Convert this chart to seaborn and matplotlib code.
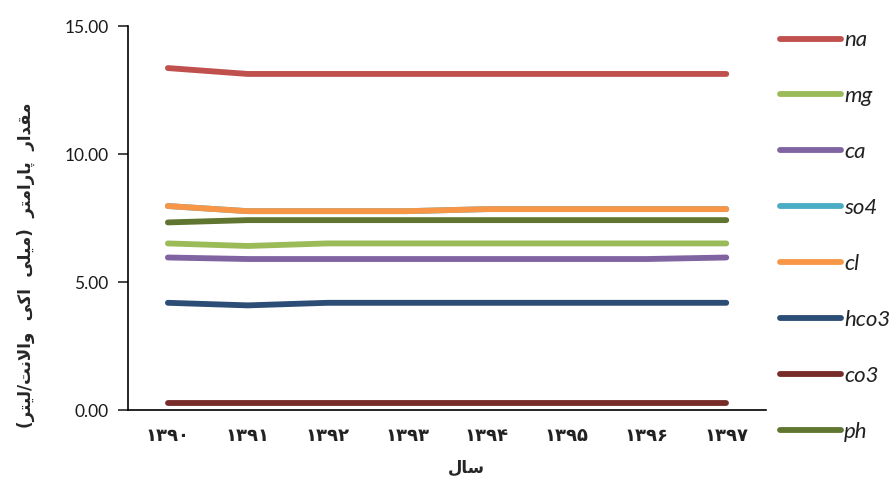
import numpy as np
import pandas as pd
import matplotlib
matplotlib.use("Agg")
import matplotlib.pyplot as plt
import seaborn as sns

# data (years 1390..1397, Persian calendar)
years = ["۱۳۹۰", "۱۳۹۱", "۱۳۹۲", "۱۳۹۳", "۱۳۹۴", "۱۳۹۵", "۱۳۹۶", "۱۳۹۷"]
na = [13.36, 13.13, 13.13, 13.13, 13.13, 13.13, 13.13, 13.13]
mg = [6.51, 6.41, 6.51, 6.51, 6.51, 6.51, 6.51, 6.51]
ca = [5.96, 5.90, 5.90, 5.90, 5.90, 5.90, 5.90, 5.96]
so4 = [7.97, 7.77, 7.77, 7.77, 7.85, 7.85, 7.85, 7.85]
cl = [7.97, 7.77, 7.77, 7.77, 7.85, 7.85, 7.85, 7.85]
hco3 = [4.19, 4.09, 4.19, 4.19, 4.19, 4.19, 4.19, 4.19]
co3 = [0.27, 0.27, 0.27, 0.27, 0.27, 0.27, 0.27, 0.27]
ph = [7.33, 7.42, 7.42, 7.42, 7.42, 7.42, 7.42, 7.42]

params = ["na", "mg", "ca", "so4", "cl", "hco3", "co3", "ph"]
colors = ["#C0504D", "#9BBB59", "#8064A2", "#4BACC6", "#F79646",
          "#2C4D75", "#772C2A", "#5F7530"]

ylabel_fa = "مقدار  پارامتر  (میلی  اکی  والانت/لیتر)"
xlabel_fa = "سال"

# matplotlib has no arabic shaping, so do a small one by hand
FORMS = {
    'ا': ('\uFE8D', '\uFE8E', None, None),
    'د': ('\uFEA9', '\uFEAA', None, None),
    'ر': ('\uFEAD', '\uFEAE', None, None),
    'و': ('\uFEED', '\uFEEE', None, None),
    '\uFEFB': ('\uFEFB', '\uFEFC', None, None),
    'م': ('\uFEE1', '\uFEE2', '\uFEE3', '\uFEE4'),
    'ق': ('\uFED5', '\uFED6', '\uFED7', '\uFED8'),
    'پ': ('\uFB56', '\uFB57', '\uFB58', '\uFB59'),
    'ت': ('\uFE95', '\uFE96', '\uFE97', '\uFE98'),
    'ی': ('\uFBFC', '\uFBFD', '\uFBFE', '\uFBFF'),
    'ل': ('\uFEDD', '\uFEDE', '\uFEDF', '\uFEE0'),
    'ک': ('\uFB8E', '\uFB8F', '\uFB90', '\uFB91'),
    'ن': ('\uFEE5', '\uFEE6', '\uFEE7', '\uFEE8'),
    'س': ('\uFEB1', '\uFEB2', '\uFEB3', '\uFEB4'),
}
MIRROR = {'(': ')', ')': '('}


def shape(text):
    text = text.replace('لا', '\uFEFB')
    out = []
    for i, ch in enumerate(text):
        if ch not in FORMS:
            out.append(MIRROR.get(ch, ch))
            continue
        prev = text[i - 1] if i > 0 else ''
        nxt = text[i + 1] if i + 1 < len(text) else ''
        join_prev = prev in FORMS and FORMS[prev][2] is not None
        join_next = FORMS[ch][2] is not None and nxt in FORMS
        iso, fin, ini, med = FORMS[ch]
        if join_prev and join_next:
            out.append(med)
        elif join_prev:
            out.append(fin)
        elif join_next:
            out.append(ini)
        else:
            out.append(iso)
    return ''.join(out[::-1])


df = pd.DataFrame({"year": years, "na": na, "mg": mg, "ca": ca, "so4": so4,
                   "cl": cl, "hco3": hco3, "co3": co3, "ph": ph})
long = df.melt(id_vars="year", var_name="param", value_name="value")

sns.set_style("white")
plt.rcParams['font.family'] = ['Lato', 'DejaVu Sans']

fig = plt.figure(figsize=(8.94, 4.83), dpi=100)
ax = fig.add_axes([0.1432, 0.151, 0.7138, 0.795])

sns.lineplot(data=long, x="year", y="value", hue="param", hue_order=params,
             palette=dict(zip(params, colors)), linewidth=4.2,
             solid_capstyle="round", ax=ax, sort=False)

ax.set_xlim(-0.5, 7.5)
ax.set_ylim(0, 15)
ax.set_yticks([0, 5, 10, 15])
ax.set_yticklabels(["0.00", "5.00", "10.00", "15.00"])
ax.tick_params(axis="y", length=7, width=1.2, direction="out", left=True,
               labelsize=12.5, labelcolor="#1a1a1a", pad=7)
ax.tick_params(axis="x", length=0, pad=12)
for lab in ax.get_xticklabels():
    lab.set_fontfamily("DejaVu Sans")
    lab.set_fontsize(13)
    lab.set_fontweight("bold")
    lab.set_color("#222222")

sns.despine(ax=ax)
for s in ["left", "bottom"]:
    ax.spines[s].set_color("black")
    ax.spines[s].set_linewidth(1.2)

ax.set_xlabel(shape(xlabel_fa), fontfamily="DejaVu Sans", fontsize=12,
              fontweight="bold")
ax.xaxis.set_label_coords(0.531, -0.128)
ax.set_ylabel(shape(ylabel_fa), fontfamily="DejaVu Sans", fontsize=12,
              fontweight="bold")
ax.yaxis.set_label_coords(-0.145, 0.378)

leg = ax.legend(loc="upper left", bbox_to_anchor=(0.99, 1.041), frameon=False,
                handlelength=2.75, handletextpad=0.14, labelspacing=1.615,
                prop={"family": "Lato", "style": "italic", "size": 16})
for t in leg.get_texts():
    t.set_color("#222222")
for h in leg.get_lines():
    h.set_linewidth(4.2)
    h.set_solid_capstyle("round")

fig.savefig("out.png", dpi=100)
